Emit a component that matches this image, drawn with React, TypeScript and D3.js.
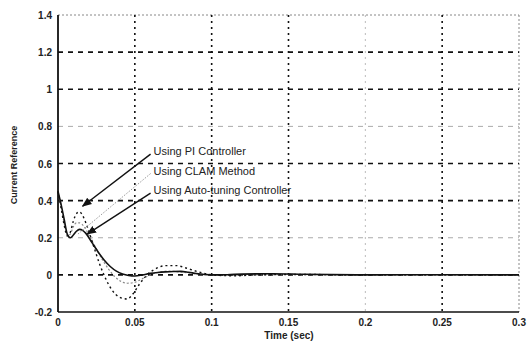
import React from "react";
import * as d3 from "d3";

const xTicks = [0, 0.05, 0.1, 0.15, 0.2, 0.25, 0.3];
const xTickLabels = ["0", "0.05", "0.1", "0.15", "0.2", "0.25", "0.3"];
const yTicks = [-0.2, 0, 0.2, 0.4, 0.6, 0.8, 1, 1.2, 1.4];
const yTickLabels = ["-0.2", "0", "0.2", "0.4", "0.6", "0.8", "1", "1.2", "1.4"];

const tAuto = [0, 0.002, 0.004, 0.006, 0.008, 0.010, 0.012, 0.014, 0.016, 0.018, 0.022, 0.026, 0.030, 0.034, 0.038, 0.042, 0.046, 0.050, 0.055, 0.060, 0.065, 0.070, 0.075, 0.080, 0.085, 0.090, 0.100, 0.110, 0.120, 0.140, 0.160, 0.200, 0.250, 0.300];
const vAuto = [0.45, 0.38, 0.3, 0.22, 0.2, 0.215, 0.235, 0.245, 0.24, 0.225, 0.175, 0.125, 0.08, 0.045, 0.02, 0.005, -0.003, -0.006, 0.0, 0.008, 0.013, 0.016, 0.018, 0.019, 0.014, 0.007, 0.0, 0.001, 0.004, 0.006, 0.003, 0.0, 0.001, 0.0];

const tPI = [0, 0.002, 0.004, 0.006, 0.008, 0.010, 0.012, 0.014, 0.016, 0.019, 0.023, 0.027, 0.031, 0.035, 0.040, 0.045, 0.049, 0.053, 0.058, 0.064, 0.070, 0.077, 0.084, 0.092, 0.100, 0.115, 0.130, 0.160, 0.200, 0.300];
const vPI = [0.45, 0.36, 0.27, 0.21, 0.23, 0.29, 0.33, 0.34, 0.32, 0.26, 0.16, 0.06, -0.02, -0.08, -0.12, -0.13, -0.1, -0.05, 0.0, 0.035, 0.05, 0.05, 0.035, 0.015, 0.0, -0.005, 0.0, 0.002, 0.0, 0.0];

const tCLAM = [0, 0.002, 0.004, 0.006, 0.008, 0.010, 0.012, 0.014, 0.017, 0.021, 0.025, 0.029, 0.033, 0.037, 0.041, 0.045, 0.050, 0.055, 0.060, 0.066, 0.072, 0.080, 0.090, 0.100, 0.120, 0.150, 0.200, 0.300];
const vCLAM = [0.45, 0.37, 0.28, 0.21, 0.22, 0.26, 0.28, 0.28, 0.26, 0.2, 0.14, 0.08, 0.03, -0.01, -0.035, -0.045, -0.04, -0.02, 0.0, 0.015, 0.02, 0.015, 0.005, 0.0, 0.0, 0.002, 0.0, 0.0];

const labels = ["Using PI Controller", "Using CLAM Method", "Using Auto-tuning Controller"];

export default function App() {
  const W = 527, H = 345;
  const x = d3.scaleLinear().domain([0, 0.3]).range([58, 519]);
  const y = d3.scaleLinear().domain([-0.2, 1.4]).range([312, 15]);
  const line = d3.line<[number, number]>().x(d => x(d[0])).y(d => y(d[1])).curve(d3.curveMonotoneX);
  const auto = line(tAuto.map((t, i) => [t, vAuto[i]]));
  const pi = line(tPI.map((t, i) => [t, vPI[i]]));
  const clam = line(tCLAM.map((t, i) => [t, vCLAM[i]]));
  const font = "Arial, 'Liberation Sans', sans-serif";

  // annotation anchors in data coordinates
  const annots = [
    { text: labels[0], tx: 0.0622, ty: 0.64, ax: 0.016, ay: 0.37, color: "#111", dash: "" },
    { text: labels[1], tx: 0.0622, ty: 0.535, ax: 0.013, ay: 0.22, color: "#999", dash: "1.5,1.5" },
    { text: labels[2], tx: 0.0622, ty: 0.43, ax: 0.019, ay: 0.22, color: "#111", dash: "" },
  ];

  return (
    <svg width={W} height={H} style={{ position: "absolute", left: 0, top: 0, background: "#fff" }}>
      <defs>
        <marker id="arr" viewBox="0 0 10 10" refX="9" refY="5" markerWidth="7" markerHeight="7" orient="auto">
          <path d="M0,1 L10,5 L0,9 z" fill="#111" />
        </marker>
      </defs>
      <rect x={0} y={0} width={W} height={H} fill="#fff" />
      {/* border top/right */}
      <line x1={x(0)} x2={x(0.3)} y1={y(1.4)} y2={y(1.4)} stroke="#888" strokeDasharray="2,2" />
      <line x1={x(0.3)} x2={x(0.3)} y1={y(1.4)} y2={y(-0.2)} stroke="#888" strokeDasharray="2,2" />
      {/* grid */}
      {yTicks.filter(v => v > -0.2 && v < 1.4).map(v => (
        <line key={"h" + v} x1={x(0)} x2={x(0.3)} y1={y(v)} y2={y(v)}
          stroke={Math.abs(v - 0.8) < 1e-6 || Math.abs(v - 0.2) < 1e-6 ? "#aaa" : "#111"}
          strokeWidth={Math.abs(v - 0.8) < 1e-6 || Math.abs(v - 0.2) < 1e-6 ? 1 : 1.6}
          strokeDasharray="5,5" />
      ))}
      {xTicks.filter(t => t > 0 && t < 0.3).map(t => (
        <line key={"v" + t} x1={x(t)} x2={x(t)} y1={y(1.4)} y2={y(-0.2)}
          stroke={Math.abs(t - 0.2) < 1e-6 ? "#bbb" : "#111"}
          strokeWidth={Math.abs(t - 0.2) < 1e-6 ? 1 : 1.6}
          strokeDasharray="2,4" />
      ))}
      {/* curves */}
      <path d={clam || ""} fill="none" stroke="#888" strokeWidth={1.2} strokeDasharray="2,2" />
      <path d={pi || ""} fill="none" stroke="#111" strokeWidth={1.4} strokeDasharray="2,3" />
      <path d={auto || ""} fill="none" stroke="#111" strokeWidth={1.6} />
      {/* axes */}
      <line x1={x(0)} x2={x(0)} y1={y(1.4)} y2={y(-0.2)} stroke="#111" strokeWidth={1.8} />
      <line x1={x(0)} x2={x(0.3)} y1={y(-0.2)} y2={y(-0.2)} stroke="#111" strokeWidth={1.4} />
      {/* tick labels */}
      {yTicks.map((v, i) => (
        <text key={"yl" + v} x={x(0) - 6} y={y(v) + 4} textAnchor="end" fontFamily={font}
          fontSize={10} fontWeight="bold" fill="#222">{yTickLabels[i]}</text>
      ))}
      {xTicks.map((t, i) => (
        <text key={"xl" + t} x={x(t)} y={326} textAnchor="middle" fontFamily={font}
          fontSize={10} fontWeight="bold" fill="#222">{xTickLabels[i]}</text>
      ))}
      <text x={289} y={339} textAnchor="middle" fontFamily={font} fontSize={10} fontWeight="bold" fill="#222">Time (sec)</text>
      <text transform={`translate(17,165) rotate(-90)`} textAnchor="middle" fontFamily={font}
        fontSize={9} fontWeight="bold" fill="#222">Current Reference</text>
      {/* annotations */}
      {annots.map((a, i) => (
        <g key={"a" + i}>
          <line x1={x(a.tx) - 3} y1={y(a.ty) - 2} x2={x(a.ax)} y2={y(a.ay)} stroke={a.color}
            strokeWidth={i === 1 ? 1 : 1.4} strokeDasharray={a.dash} markerEnd={i === 1 ? undefined : "url(#arr)"} />
          <text x={x(a.tx)} y={y(a.ty) - 1} fontFamily={font} fontSize={11} fill="#222">{a.text}</text>
        </g>
      ))}
    </svg>
  );
}
